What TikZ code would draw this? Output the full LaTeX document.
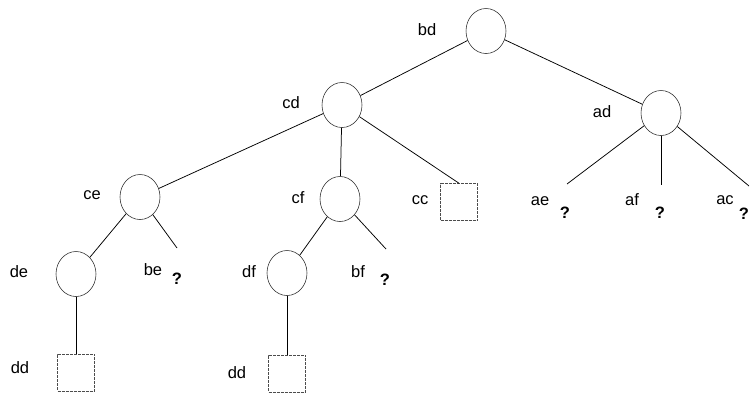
\documentclass[tikz,border=0pt]{standalone}
\usepackage{fontspec}
\setmainfont{Liberation Sans}
\usetikzlibrary{shapes.geometric}
\begin{document}
\begin{tikzpicture}[x=1pt,y=-1pt,
  circ/.style={ellipse,draw=black!85,line width=0.55pt,minimum width=40pt,minimum height=45pt,inner sep=0pt},
  sq/.style={rectangle,draw=black!70,line width=0.5pt,dash pattern=on 3pt off 1pt,minimum width=37pt,minimum height=37pt,inner sep=0pt},
  lab/.style={font=\fontsize{16.5}{18}\selectfont,inner sep=0pt},
  qm/.style={font=\fontsize{16.5}{18}\selectfont\bfseries,inner sep=0pt},
  edge/.style={line width=0.75pt,black}]
\useasboundingbox (0,0) rectangle (750,392);
% internal nodes
\node[circ] (bd) at (486,31) {};
\node[circ] (cd) at (342,105) {};
\node[circ] (ad) at (661,113) {};
\node[circ] (ce) at (140,197) {};
\node[circ] (cf) at (340,199) {};
\node[circ] (de) at (76,274) {};
\node[circ] (df) at (287,273) {};
% leaves
\node[sq] (cc) at (459,202) {};
\node[sq] (dd1) at (76,372.5) {};
\node[sq] (dd2) at (287,373.5) {};
% open ends
\coordinate (be) at (177,248);
\coordinate (bf) at (386,249);
\coordinate (ae) at (567,184);
\coordinate (af) at (661,185);
\coordinate (ac) at (749,186);
% labels
\node[lab] (lbd) at (427,30) {bd};
\node[lab] (lcd) at (291,103) {cd};
\node[lab] (lad) at (602,112) {ad};
\node[lab] (lce) at (92,195) {ce};
\node[lab] (lcf) at (298,198) {cf};
\node[lab] (lcc) at (420,200) {cc};
\node[lab] (lde) at (19,272) {de};
\node[lab] (lbe) at (153,270) {be};
\node[qm] (qbe) at (177,279) {?};
\node[lab] (ldf) at (249,272) {df};
\node[lab] (lbf) at (358,272) {bf};
\node[qm] (qbf) at (385,280) {?};
\node[lab] (lae) at (540,201) {ae};
\node[qm] (qae) at (565,213) {?};
\node[lab] (laf) at (632,200) {af};
\node[qm] (qaf) at (660,213) {?};
\node[lab] (lac) at (725,200) {ac};
\node[qm] (qac) at (744,214) {?};
\node[lab] (ldd1) at (20,368) {dd};
\node[lab] (ldd2) at (237,373) {dd};
% edges
\draw[edge] (bd) -- (cd);
\draw[edge] (bd) -- (ad);
\draw[edge] (cd) -- (ce);
\draw[edge] (cd) -- (cf);
\draw[edge] (cd) -- (cc.north);
\draw[edge] (ad) -- (ae);
\draw[edge] (ad.south) -- (af);
\draw[edge] (ad) -- (ac);
\draw[edge] (ce) -- (de);
\draw[edge] (ce) -- (be);
\draw[edge] (cf) -- (df);
\draw[edge] (cf) -- (bf);
\draw[edge] (de.south) -- (dd1.north);
\draw[edge] (df.south) -- (dd2.north);
\end{tikzpicture}
\end{document}
